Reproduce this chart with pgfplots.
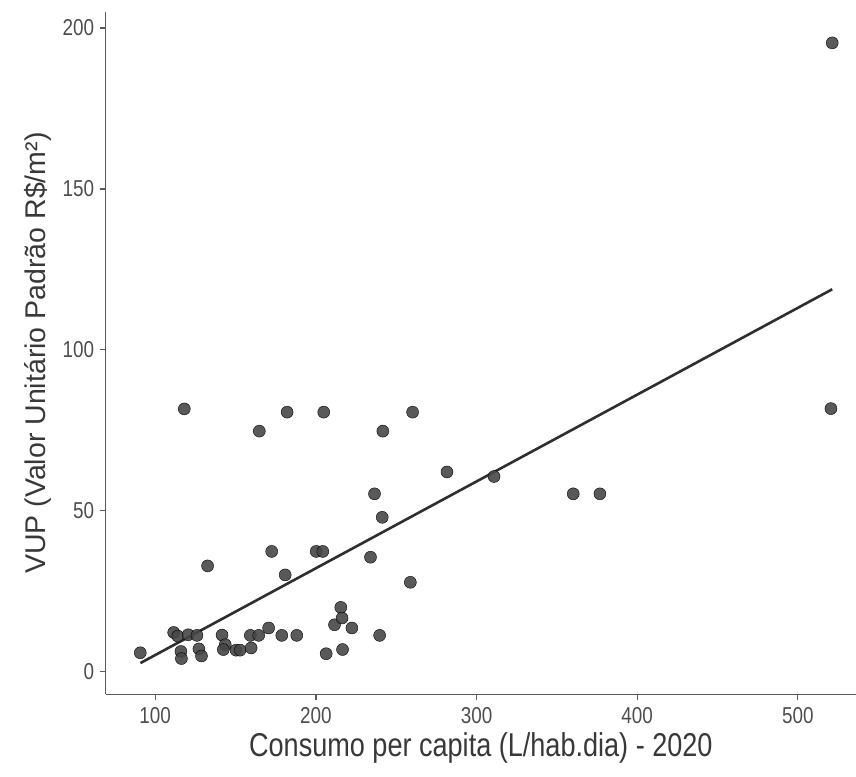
\documentclass[border=0pt]{standalone}
\usepackage{fontspec}
\setmainfont[FakeStretch=0.82]{Liberation Sans}
\newfontfamily\widefont{Liberation Sans}
\usepackage{pgfplots}
\pgfplotsset{compat=1.18}
\definecolor{ptcol}{HTML}{474747}
\definecolor{lncol}{HTML}{2E2E2E}
\definecolor{tickcol}{HTML}{4D4D4D}
\definecolor{axcol}{HTML}{5A5A5A}
\begin{document}
\begin{tikzpicture}
\begin{axis}[
    scale only axis,
    width=750bp, height=682bp,
    xmin=69.2, xmax=536.2,
    ymin=-7.1, ymax=205,
    axis x line*=bottom, axis y line*=left,
    axis line style={axcol, line width=1.3bp},
    tick align=outside,
    major tick length=6bp,
    tick style={axcol, line width=1.3bp},
    xtick={100,200,300,400,500},
    ytick={0,50,100,150,200},
    /pgf/number format/assume math mode=true,
    ticklabel style={font=\fontsize{23bp}{27bp}\selectfont, text=tickcol},
    xticklabel style={yshift=-4bp},
    yticklabel style={xshift=-2bp},
    xlabel={Consumo per capita (L/hab.dia) - 2020},
    ylabel={VUP (Valor Unitário Padrão R\$/m²)},
    xlabel style={font=\fontsize{33bp}{38bp}\selectfont, text=black!78, yshift=-2bp},
    ylabel style={font=\widefont\fontsize{28.5bp}{33bp}\selectfont, text=black!78, yshift=4bp},
    clip=false,
]
\addplot[only marks, mark=*, mark size=6bp, mark options={fill=ptcol, draw=none, fill opacity=0.9}] coordinates {
(90.7,5.8) (111.5,12.1) (114,11.0) (120.5,11.4) (126,11.2)
(116,6.2) (116.3,4.0) (127.2,7.0) (128.8,4.8) (118.1,81.6)
(132.6,32.8) (141.6,11.3) (143.6,8.3) (142.4,6.8) (150.3,6.6)
(152.8,6.6) (159.7,7.3) (159.2,11.2) (164.4,11.2) (170.6,13.5)
(178.8,11.2) (188.1,11.2) (164.8,74.7) (172.5,37.3) (180.9,30.0)
(182.1,80.6) (200.2,37.3) (204.3,37.3) (204.9,80.6) (206.4,5.5)
(211.6,14.5) (215.5,19.9) (216.3,16.6) (216.6,6.8) (222.4,13.5)
(234,35.5) (236.5,55.2) (239.7,11.2) (241.3,47.9) (241.7,74.7)
(258.8,27.7) (260.2,80.6) (281.6,62.0) (310.9,60.6) (360.2,55.2)
(376.8,55.2) (520.6,81.7) (521.4,195.4)
};
\addplot[lncol, line width=2.6bp] coordinates {(90.8,2.6) (521.4,118.8)};
\end{axis}
\pgfresetboundingbox
\path[use as bounding box] ([xshift=-105.7bp,yshift=-82bp]current axis.south west) rectangle ([yshift=12bp]current axis.north east);
\end{tikzpicture}
\end{document}
